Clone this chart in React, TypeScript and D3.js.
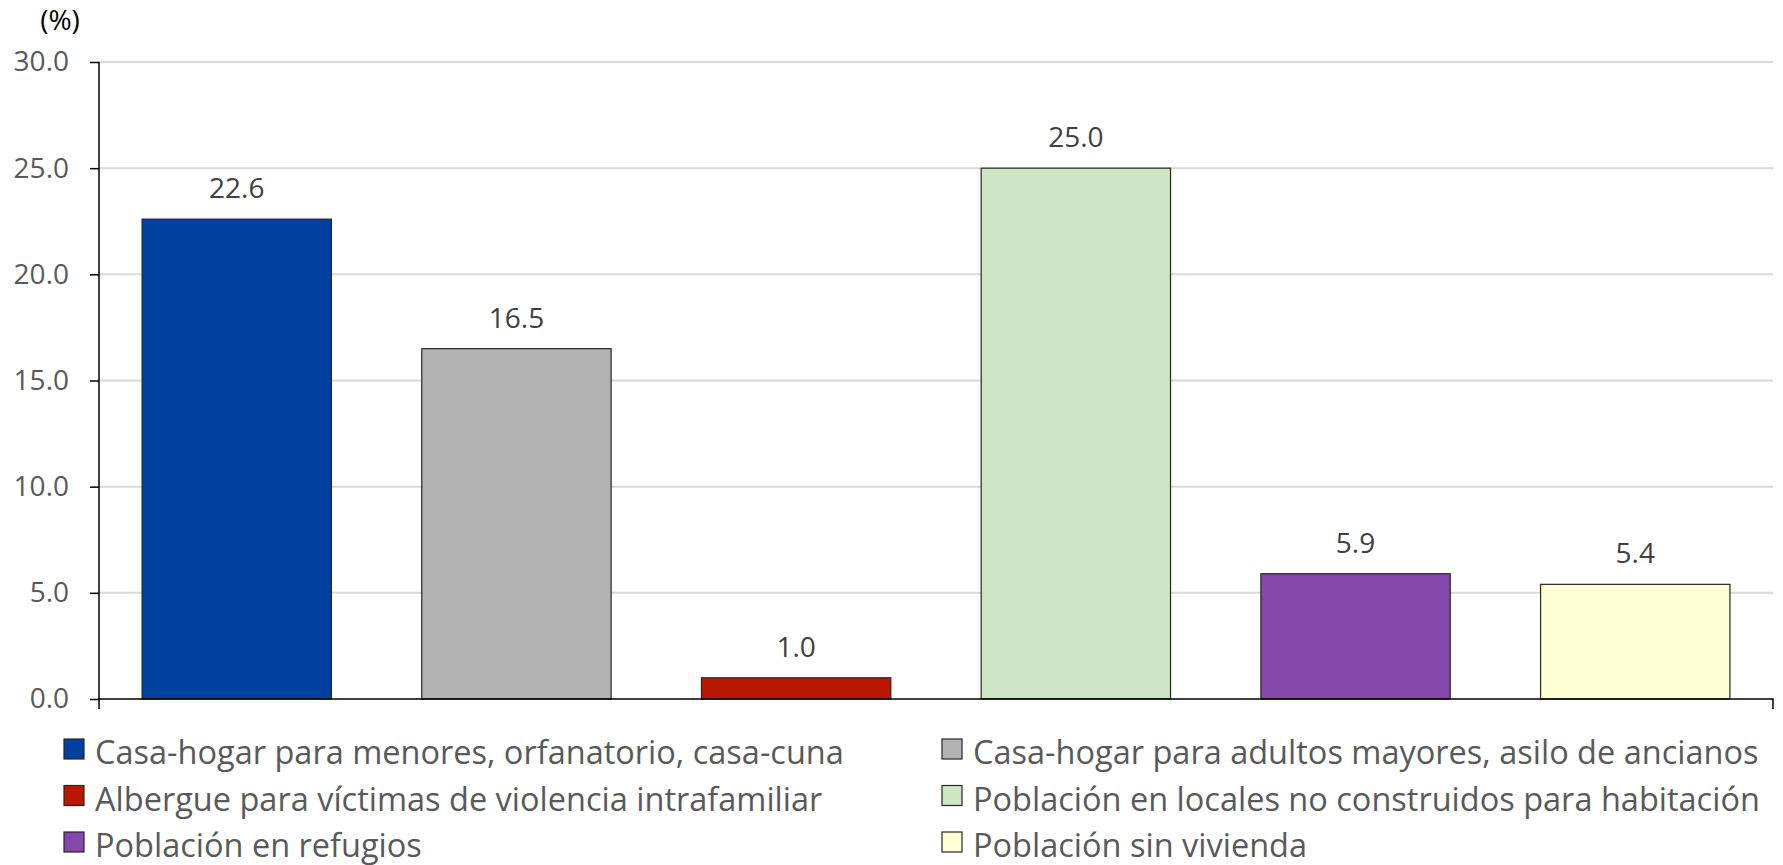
import React, { useEffect, useRef } from 'react';
import * as d3 from 'd3';

const categories = [
  'Casa-hogar para menores, orfanatorio, casa-cuna',
  'Casa-hogar para adultos mayores, asilo de ancianos',
  'Albergue para víctimas de violencia intrafamiliar',
  'Población en locales no construidos para habitación',
  'Población en refugios',
  'Población sin vivienda'
];
const values = [22.6, 16.5, 1.0, 25.0, 5.9, 5.4];
const colors = ['#0041a0', '#b3b3b3', '#b91800', '#cfe6c5', '#8547ab', '#ffffd5'];
const yTicks = [0, 5, 10, 15, 20, 25, 30];

const WIDTH = 1783;
const HEIGHT = 865;
const FONT = '"Open Sans", "Noto Sans", sans-serif';

const App: React.FC = () => {
  const svgRef = useRef<SVGSVGElement>(null);

  useEffect(() => {
    if (!svgRef.current) return;
    const svg = d3.select(svgRef.current);
    svg.selectAll('*').remove();

    const left = 99;
    const right = 1773;
    const top = 62;
    const bottom = 699;

    const x = d3.scaleBand<string>()
      .domain(categories)
      .range([left, right])
      .paddingInner(0.323)
      .paddingOuter(0.154);

    const y = d3.scaleLinear().domain([0, 30]).range([bottom, top]);

    // Grid lines
    svg.append('g')
      .selectAll('line')
      .data(yTicks.filter(t => t > 0))
      .join('line')
      .attr('x1', left)
      .attr('x2', right)
      .attr('y1', d => y(d))
      .attr('y2', d => y(d))
      .attr('stroke', '#d9d9d9')
      .attr('stroke-width', 2);

    // Y axis
    const yAxis = svg.append('g').attr('transform', `translate(${left},0)`)
      .call(d3.axisLeft(y).tickValues(yTicks).tickSize(9).tickPadding(21).tickFormat(d => d3.format('.1f')(d as number)));
    yAxis.select('.domain').attr('stroke', '#000').attr('stroke-width', 1.5)
      .attr('d', `M0,${top}V${bottom}`);
    yAxis.selectAll('.tick line').attr('stroke', '#000').attr('stroke-width', 1.5);
    yAxis.selectAll('text')
      .style('font-family', FONT)
      .style('font-size', '28px')
      .attr('fill', '#595959');

    // Bars
    svg.append('g')
      .selectAll('rect')
      .data(values)
      .join('rect')
      .attr('x', (_, i) => x(categories[i]) || 0)
      .attr('y', d => y(d))
      .attr('width', x.bandwidth())
      .attr('height', d => bottom - y(d))
      .attr('fill', (_, i) => colors[i])
      .attr('stroke', '#262626')
      .attr('stroke-width', 1.2);

    // X axis baseline with end ticks
    svg.append('path')
      .attr('d', `M${left},${bottom + 10}V${bottom}H${right}V${bottom + 10}`)
      .attr('fill', 'none')
      .attr('stroke', '#000')
      .attr('stroke-width', 1.5);

    // Value labels with white background
    const labels = svg.append('g');
    values.forEach((v, i) => {
      const cx = (x(categories[i]) || 0) + x.bandwidth() / 2;
      const by = y(v) - 21;
      const lg = labels.append('g');
      const bg = lg.append('rect').attr('fill', '#fff');
      const t = lg.append('text')
        .attr('x', cx)
        .attr('y', by)
        .attr('text-anchor', 'middle')
        .style('font-family', FONT)
        .style('font-size', '28px')
        .attr('fill', '#404040')
        .text(d3.format('.1f')(v));
      const w = (t.node() as SVGTextElement).getComputedTextLength();
      bg.attr('x', cx - w / 2 - 9).attr('y', by - 28).attr('width', w + 18).attr('height', 36);
    });

    // Unit label
    svg.append('text')
      .attr('x', 60)
      .attr('y', 30)
      .attr('text-anchor', 'middle')
      .style('font-family', FONT)
      .style('font-size', '28px')
      .attr('fill', '#000')
      .text('(%)');

    // Legend
    const legend = svg.append('g');
    categories.forEach((c, i) => {
      const col = i % 2;
      const row = Math.floor(i / 2);
      const lx = col === 0 ? 64 : 942;
      const ly = 739 + row * 46.5;
      legend.append('rect')
        .attr('x', lx)
        .attr('y', ly)
        .attr('width', 20)
        .attr('height', 20)
        .attr('fill', colors[i])
        .attr('stroke', '#262626')
        .attr('stroke-width', 1.2);
      legend.append('text')
        .attr('x', lx + 31)
        .attr('y', ly + 25)
        .style('font-family', FONT)
        .style('font-size', '32.5px')
        .attr('fill', '#595959')
        .text(c);
    });
  }, []);

  return (
    <svg
      ref={svgRef}
      width={WIDTH}
      height={HEIGHT}
      viewBox={`0 0 ${WIDTH} ${HEIGHT}`}
      style={{ position: 'absolute', left: 0, top: 0, background: '#fff' }}
    />
  );
};

export default App;
